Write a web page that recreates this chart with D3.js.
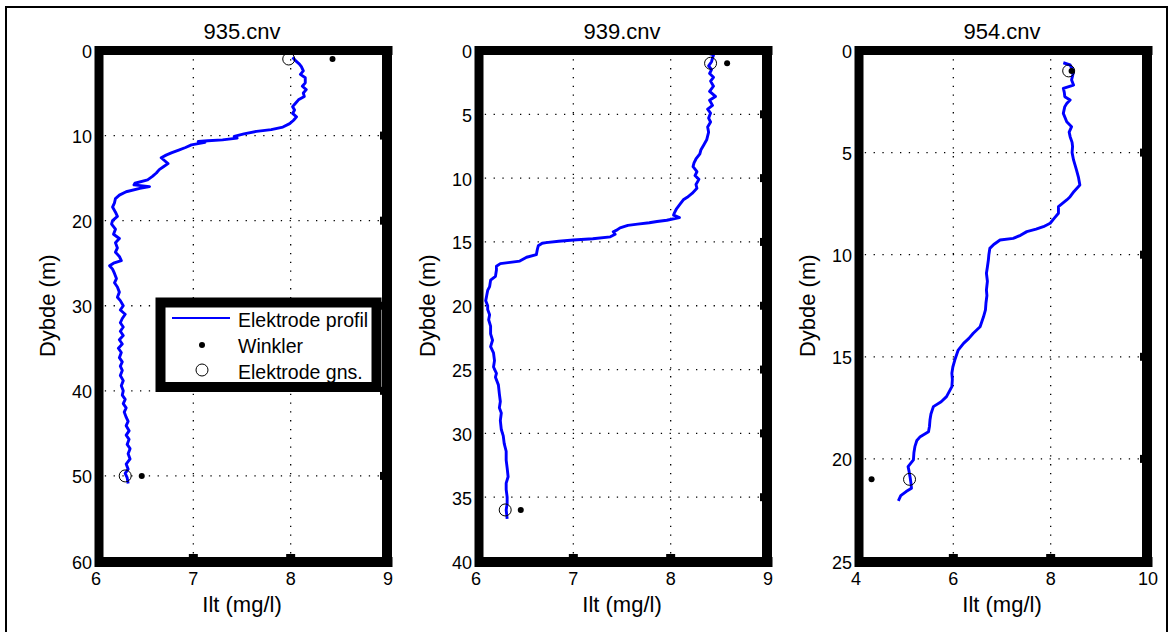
<!DOCTYPE html>
<html>
<head>
<meta charset="utf-8">
<script src="https://cdn.jsdelivr.net/npm/d3@7"></script>
<style>
  body { margin: 0; background: #fff; }
  text { font-family: "Liberation Sans", Arial, Helvetica, sans-serif; fill: #000; }
</style>
</head>
<body>
<script>
// station names (one panel each)
var stations = ['935.cnv', '939.cnv', '954.cnv'];

// axis ranges and ticks
var xDomains = [[6, 9], [6, 9], [4, 10]];
var yDomains = [[0, 60], [0, 40], [0, 25]];
var xTicks935 = [6, 7, 8, 9];
var xTicks939 = [6, 7, 8, 9];
var xTicks954 = [4, 6, 8, 10];
var yTicks935 = [0, 10, 20, 30, 40, 50, 60];
var yTicks939 = [0, 5, 10, 15, 20, 25, 30, 35, 40];
var yTicks954 = [0, 5, 10, 15, 20, 25];

// electrode profiles (depth m, oxygen mg/l)
var depth935 = [0.8, 1.2, 1.6, 1.9, 2.4, 2.8, 3.2, 3.8, 4.2, 4.6, 5.0, 5.4, 5.8, 6.2, 6.6, 7.0, 7.4, 7.8, 8.2, 8.6,
  9.0, 9.3, 9.5, 9.8, 10.1, 10.3, 10.5, 10.6, 10.7, 10.8, 11.1, 11.4, 11.7, 12.0, 12.3, 12.6, 12.9, 13.3, 13.6, 14.0,
  14.4, 14.8, 15.2, 15.6, 15.8, 16.0, 16.2, 16.6, 17.0, 17.4, 17.9, 18.4, 19.0, 19.5, 20.0, 20.4, 21.0, 21.6, 22.1, 22.6,
  23.2, 23.7, 24.2, 24.7, 25.0, 25.3, 25.7, 26.2, 26.8, 27.3, 27.8, 28.4, 29.0, 29.4, 30.0, 30.5, 31.0, 31.5, 32.0, 32.5,
  33.0, 33.5, 34.0, 34.5, 35.0, 35.5, 36.1, 36.6, 37.1, 37.6, 38.2, 38.8, 39.4, 40.0, 40.5, 41.0, 41.5, 42.0, 42.5, 43.1,
  43.6, 44.1, 44.7, 45.2, 45.7, 46.3, 46.8, 47.4, 48.0, 48.6, 49.2, 49.7, 50.2, 50.9];
var ilt935 = [8.02, 8.05, 8.09, 8.11, 8.13, 8.10, 8.15, 8.15, 8.12, 8.16, 8.13, 8.14, 8.08, 8.05, 8.02, 8.04, 8.02, 8.06, 8.03, 7.99,
  7.92, 7.80, 7.65, 7.52, 7.42, 7.45, 7.30, 7.15, 7.05, 7.12, 6.98, 6.92, 6.85, 6.78, 6.72, 6.67, 6.70, 6.74, 6.70, 6.65,
  6.62, 6.58, 6.53, 6.40, 6.39, 6.55, 6.45, 6.31, 6.24, 6.20, 6.19, 6.17, 6.20, 6.22, 6.17, 6.16, 6.20, 6.18, 6.24, 6.20,
  6.22, 6.20, 6.24, 6.26, 6.18, 6.14, 6.17, 6.19, 6.21, 6.19, 6.22, 6.24, 6.22, 6.25, 6.28, 6.25, 6.30, 6.27, 6.25, 6.28,
  6.25, 6.28, 6.24, 6.27, 6.23, 6.26, 6.24, 6.27, 6.25, 6.27, 6.25, 6.28, 6.26, 6.28, 6.27, 6.30, 6.28, 6.31, 6.29, 6.31,
  6.33, 6.31, 6.34, 6.31, 6.34, 6.32, 6.35, 6.33, 6.35, 6.31, 6.33, 6.30, 6.32, 6.33];

var depth939 = [0.17, 0.05, 0.0, 0.1, 0.35, 0.6, 0.88, 1.2, 1.5, 1.8, 2.1, 2.4, 2.8, 3.2, 3.6, 3.9, 4.3, 4.6, 4.9, 5.3,
  5.6, 6.0, 6.4, 7.0, 7.4, 7.8, 8.1, 8.5, 8.8, 9.1, 9.5, 9.8, 10.1, 10.5, 10.8, 11.2, 11.5, 11.7, 12.0, 12.4,
  12.7, 12.9, 13.1, 13.3, 13.4, 13.5, 13.6, 13.7, 13.9, 14.1, 14.2, 14.4, 14.6, 14.75, 14.85, 14.95, 15.05, 15.1, 15.3, 15.6,
  16.0, 16.2, 16.5, 16.6, 16.7, 16.9, 17.2, 17.7, 18.0, 18.5, 18.8, 19.2, 19.6, 20.0, 20.3, 20.7, 21.1, 21.6, 22.2, 22.7,
  23.2, 23.7, 24.3, 24.8, 25.3, 25.6, 26.2, 26.9, 27.5, 28.0, 28.4, 29.0, 29.7, 30.2, 30.8, 31.4, 32.1, 32.7, 33.4, 33.9,
  34.4, 35.0, 35.5, 36.0, 36.7];
var ilt939 = [8.10, 8.16, 8.23, 8.34, 8.44, 8.43, 8.42, 8.39, 8.42, 8.40, 8.44, 8.41, 8.44, 8.40, 8.46, 8.40, 8.43, 8.38, 8.41, 8.39,
  8.41, 8.38, 8.39, 8.37, 8.34, 8.31, 8.30, 8.26, 8.24, 8.23, 8.27, 8.25, 8.29, 8.26, 8.27, 8.22, 8.17, 8.13, 8.10, 8.06,
  8.04, 8.03, 8.09, 7.96, 7.86, 7.78, 7.66, 7.56, 7.48, 7.44, 7.41, 7.43, 7.38, 7.20, 7.00, 6.85, 6.72, 6.68, 6.64, 6.63,
  6.62, 6.52, 6.45, 6.35, 6.25, 6.21, 6.21, 6.20, 6.15, 6.14, 6.12, 6.11, 6.10, 6.12, 6.12, 6.14, 6.13, 6.15, 6.15, 6.17,
  6.15, 6.18, 6.19, 6.18, 6.21, 6.20, 6.23, 6.24, 6.25, 6.24, 6.26, 6.25, 6.26, 6.28, 6.29, 6.31, 6.31, 6.32, 6.33, 6.31,
  6.31, 6.32, 6.32, 6.31, 6.32];

var depth954 = [0.6, 0.71, 1.04, 1.44, 1.69, 1.85, 2.05, 2.26, 2.42, 2.6, 2.75, 3.08, 3.49, 3.73, 4.0, 4.22, 4.5, 4.71, 5.0, 5.36,
  5.6, 5.85, 6.2, 6.59, 6.9, 7.16, 7.32, 7.65, 7.97, 8.2, 8.46, 8.63, 8.75, 8.87, 9.05, 9.2, 9.28, 9.5, 9.69, 10.0,
  10.26, 10.6, 10.91, 11.3, 11.73, 12.0, 12.38, 12.7, 13.04, 13.53, 13.85, 14.1, 14.34, 14.67, 15.16, 15.5, 15.81, 16.1, 16.46, 16.95,
  17.2, 17.44, 17.8, 18.1, 18.4, 18.67, 18.91, 19.1, 19.4, 19.7, 20.05, 20.38, 20.6, 20.87, 21.2, 21.44, 21.6, 21.8, 22.05];
var ilt954 = [8.26, 8.40, 8.47, 8.43, 8.47, 8.26, 8.28, 8.29, 8.40, 8.33, 8.29, 8.26, 8.33, 8.43, 8.38, 8.40, 8.44, 8.45, 8.44, 8.47,
  8.50, 8.53, 8.57, 8.60, 8.48, 8.40, 8.33, 8.16, 8.16, 8.08, 7.99, 7.85, 7.70, 7.51, 7.38, 7.23, 6.96, 6.83, 6.75, 6.73,
  6.72, 6.70, 6.68, 6.70, 6.68, 6.69, 6.67, 6.66, 6.62, 6.55, 6.41, 6.32, 6.21, 6.10, 6.03, 5.99, 5.97, 5.98, 5.97, 5.86,
  5.75, 5.59, 5.54, 5.52, 5.51, 5.49, 5.32, 5.25, 5.21, 5.19, 5.18, 5.07, 5.09, 5.11, 5.13, 5.14, 5.03, 4.92, 4.87];

// Winkler samples and electrode values at the same depths
var winklerDepth935 = [1, 50], winklerIlt935 = [8.43, 6.47];
var winklerDepth939 = [1, 36], winklerIlt939 = [8.58, 6.46];
var winklerDepth954 = [1, 21], winklerIlt954 = [8.43, 4.32];
var gnsDepth935 = [1, 50], gnsIlt935 = [7.98, 6.30];
var gnsDepth939 = [1, 36], gnsIlt939 = [8.41, 6.30];
var gnsDepth954 = [1, 21], gnsIlt954 = [8.37, 5.10];

var legendLabels = ['Elektrode profil', 'Winkler', 'Elektrode gns.'];

var panels = [
  { xt: xTicks935, yt: yTicks935, d: depth935, v: ilt935, wd: winklerDepth935, wv: winklerIlt935, gd: gnsDepth935, gv: gnsIlt935 },
  { xt: xTicks939, yt: yTicks939, d: depth939, v: ilt939, wd: winklerDepth939, wv: winklerIlt939, gd: gnsDepth939, gv: gnsIlt939 },
  { xt: xTicks954, yt: yTicks954, d: depth954, v: ilt954, wd: winklerDepth954, wv: winklerIlt954, gd: gnsDepth954, gv: gnsIlt954 }
];

var W = 1169, H = 632;
var top0 = 50.5, bottom0 = 561, pw = 292, left0 = 96, step = 380;
var bw = 9; // thick box line

var svg = d3.select('body').append('svg')
  .attr('width', W)
  .attr('height', H);

// figure frame
svg.append('rect')
  .attr('x', 6).attr('y', 7)
  .attr('width', 1161).attr('height', 640)
  .attr('fill', 'none').attr('stroke', '#000').attr('stroke-width', 2);

panels.forEach(function(p, i) {
  var x0 = left0 + i * step, x1 = x0 + pw;
  var x = d3.scaleLinear().domain(xDomains[i]).range([x0, x1]);
  var y = d3.scaleLinear().domain(yDomains[i]).range([top0, bottom0]);
  var g = svg.append('g');

  // dotted grid
  g.selectAll('.gx').data(p.xt.slice(1, -1)).enter().append('line')
    .attr('x1', x).attr('x2', x).attr('y1', top0).attr('y2', bottom0)
    .attr('stroke', '#000').attr('stroke-width', 1.3).attr('stroke-dasharray', '1.3,7.5');
  g.selectAll('.gy').data(p.yt.slice(1, -1)).enter().append('line')
    .attr('y1', y).attr('y2', y).attr('x1', x0).attr('x2', x1)
    .attr('stroke', '#000').attr('stroke-width', 1.3).attr('stroke-dasharray', '1.3,7.5');

  // profile
  var line = d3.line()
    .x(function(k) { return x(p.v[k]); })
    .y(function(k) { return y(p.d[k]); });
  g.append('path')
    .attr('d', line(d3.range(p.d.length)))
    .attr('fill', 'none').attr('stroke', '#0000ff').attr('stroke-width', 2.9)
    .attr('stroke-linejoin', 'round');

  // winkler dots
  g.selectAll('.wk').data(p.wd).enter().append('circle')
    .attr('cx', function(d, k) { return x(p.wv[k]); })
    .attr('cy', function(d) { return y(d); })
    .attr('r', 3).attr('fill', '#000');
  // electrode averages
  g.selectAll('.gn').data(p.gd).enter().append('circle')
    .attr('cx', function(d, k) { return x(p.gv[k]); })
    .attr('cy', function(d) { return y(d); })
    .attr('r', 6).attr('fill', 'none').attr('stroke', '#000').attr('stroke-width', 1);

  // thick box
  g.append('line').attr('x1', x0 - 1).attr('x2', x1 + bw / 2).attr('y1', top0).attr('y2', top0)
    .attr('stroke', '#000').attr('stroke-width', bw);
  g.append('line').attr('x1', x0 - 1).attr('x2', x1 + bw / 2).attr('y1', bottom0 + 1).attr('y2', bottom0 + 1)
    .attr('stroke', '#000').attr('stroke-width', bw + 1);
  g.append('line').attr('x1', x0 + 3).attr('x2', x0 + 3).attr('y1', top0 - bw / 2).attr('y2', bottom0 + 6)
    .attr('stroke', '#000').attr('stroke-width', bw);
  g.append('line').attr('x1', x1 - 1).attr('x2', x1 - 1).attr('y1', top0 - bw / 2).attr('y2', bottom0 + 6)
    .attr('stroke', '#000').attr('stroke-width', bw + 1);

  // tick stubs on right and bottom
  g.selectAll('.tr').data(p.yt.slice(1, -1)).enter().append('line')
    .attr('y1', y).attr('y2', y).attr('x1', x1 - 8).attr('x2', x1)
    .attr('stroke', '#000').attr('stroke-width', 8);
  g.selectAll('.tb').data(p.xt.slice(1, -1)).enter().append('line')
    .attr('x1', x).attr('x2', x).attr('y1', bottom0 - 7).attr('y2', bottom0)
    .attr('stroke', '#000').attr('stroke-width', 9);

  // tick labels
  g.selectAll('.ly').data(p.yt).enter().append('text')
    .attr('x', x0 - 4).attr('y', function(d) { return y(d) + 7.5; })
    .attr('text-anchor', 'end').attr('font-size', 18)
    .text(function(d) { return d; });
  g.selectAll('.lx').data(p.xt).enter().append('text')
    .attr('x', x).attr('y', 585)
    .attr('text-anchor', 'middle').attr('font-size', 18)
    .text(function(d) { return d; });

  // title and axis labels
  g.append('text').attr('x', (x0 + x1) / 2).attr('y', 39)
    .attr('text-anchor', 'middle').attr('font-size', 22).text(stations[i]);
  g.append('text').attr('x', (x0 + x1) / 2).attr('y', 612)
    .attr('text-anchor', 'middle').attr('font-size', 22).text('Ilt (mg/l)');
  g.append('text')
    .attr('transform', 'translate(' + (x0 - 41) + ',' + ((top0 + bottom0) / 2) + ') rotate(-90)')
    .attr('text-anchor', 'middle').attr('font-size', 22).text('Dybde (m)');
});

// legend in the first panel
var lg = svg.append('g');
lg.append('rect')
  .attr('x', 160.5).attr('y', 302.5).attr('width', 216).attr('height', 84.5)
  .attr('fill', '#fff').attr('stroke', '#000').attr('stroke-width', 10);
lg.append('line').attr('x1', 172).attr('x2', 230).attr('y1', 318).attr('y2', 318)
  .attr('stroke', '#0000ff').attr('stroke-width', 2);
lg.append('circle').attr('cx', 202).attr('cy', 345).attr('r', 3).attr('fill', '#000');
lg.append('circle').attr('cx', 202).attr('cy', 370).attr('r', 6)
  .attr('fill', 'none').attr('stroke', '#000').attr('stroke-width', 1);
lg.selectAll('.lt').data(legendLabels).enter().append('text')
  .attr('x', 238).attr('y', function(d, i) { return 327 + i * 26; })
  .attr('font-size', 19.5)
  .text(function(d) { return d; });
</script>
</body>
</html>
